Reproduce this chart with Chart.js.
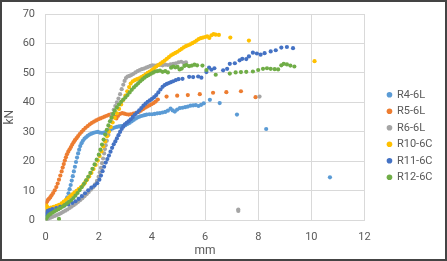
<!DOCTYPE html>
<html>
<head>
<meta charset="UTF-8">
<title>kN - mm</title>
<script src="https://cdn.jsdelivr.net/npm/chart.js@4.4.1/dist/chart.umd.min.js"></script>
<style>
  html, body { margin: 0; padding: 0; background: #fff; }
  .frame {
    width: 447px; height: 261px; box-sizing: border-box;
    border: 2px solid #444; background: #fff; position: relative;
  }
</style>
</head>
<body>
<div class="frame">
  <canvas id="grafico"></canvas>
</div>
<script>
// Serie names
const nomes = ['R4-6L', 'R5-6L', 'R6-6L', 'R10-6C', 'R11-6C', 'R12-6C'];
const cores = ['#5B9BD5', '#ED7D31', '#A5A5A5', '#FFC000', '#4472C4', '#70AD47'];

// Axis ticks
const ticksX = [0, 2, 4, 6, 8, 10, 12];
const ticksY = [0, 10, 20, 30, 40, 50, 60, 70];

// R4-6L
const r4x = [0,0.04,0.08,0.15,0.22,0.3,0.38,0.46,0.54,0.62,0.7,0.76,0.81,0.86,0.9,0.94,0.98,1.02,1.06,1.1,1.14,1.18,1.22,1.26,1.3,1.35,1.4,1.46,1.52,1.58,1.65,1.72,1.8,1.88,1.96,2.04,2.12,2.2,2.28,2.36,2.44,2.52,2.6,2.68,2.76,2.84,2.92,3.0,3.08,3.16,3.24,3.32,3.4,3.48,3.56,3.64,3.72,3.8,3.9,4.0,4.1,4.2,4.3,4.4,4.5,4.6,4.7,4.78,4.86,4.95,5.05,5.15,5.25,5.35,5.45,5.55,5.65,5.75,5.85,5.95,6.18,6.55,7.2,8.3,10.7];
const r4y = [1.2,1.6,2,2.4,2.9,3.3,3.7,4.1,4.5,5,5.6,6.5,7.8,9.2,10.6,12,13.5,15,16.6,18.2,19.8,21.3,22.7,24,25.2,26.2,27,27.7,28.2,28.7,29.1,29.4,29.7,29.9,30,29.8,29.7,29.8,30.1,30.4,30.8,31.2,31.5,31.7,31.9,32,32.1,32.3,32.7,33.1,33.6,34.1,34.6,35,35.3,35.5,35.7,35.9,36,36,36.1,36.3,36.4,36.6,36.8,37.2,37.9,37.3,36.9,37.6,38.1,38.2,38.4,38.6,38.9,39,39.1,38.8,39.2,39.7,40.9,39.8,35.9,31,14.6];

// R5-6L
const r5x = [0,0.02,0.05,0.08,0.12,0.17,0.22,0.28,0.34,0.4,0.45,0.5,0.55,0.6,0.64,0.68,0.72,0.76,0.8,0.85,0.9,0.95,1.0,1.05,1.1,1.16,1.22,1.28,1.35,1.42,1.5,1.58,1.66,1.74,1.82,1.9,1.98,2.06,2.14,2.22,2.3,2.38,2.46,2.54,2.6,2.66,2.72,2.8,2.88,2.96,3.04,3.12,3.2,3.3,3.4,3.5,3.58,3.66,3.74,3.82,3.9,3.98,4.06,4.14,4.22,4.55,4.95,5.35,5.8,6.3,6.8,7.35,7.9];
const r5y = [5.5,6,6.4,6.9,7.3,7.8,8.5,9.3,10.2,11.3,12.5,13.8,15.2,16.6,17.9,19.1,20.3,21.4,22.4,23.3,24.1,24.9,25.7,26.5,27.2,27.9,28.6,29.3,30,30.7,31.4,32,32.6,33.1,33.5,33.9,34.3,34.6,34.9,35.2,35.5,35.8,36,35.7,35.1,34.6,35.4,36.1,36.4,36.2,36,35.9,36,36.2,36.5,36.8,37.2,37.7,38.2,38.6,39,39.4,39.8,40.3,41,42,42.3,42.5,42.8,43.3,43.5,43.8,41.8];

// R6-6L
const r6x = [0,0.05,0.1,0.18,0.26,0.34,0.42,0.5,0.58,0.66,0.74,0.82,0.9,0.98,1.06,1.14,1.22,1.3,1.38,1.46,1.54,1.62,1.7,1.78,1.86,1.93,1.99,2.04,2.08,2.12,2.16,2.2,2.23,2.26,2.3,2.36,2.42,2.46,2.5,2.56,2.62,2.68,2.74,2.8,2.86,2.92,2.97,3.02,3.08,3.15,3.22,3.3,3.38,3.46,3.54,3.62,3.7,3.78,3.86,3.94,4.02,4.1,4.2,4.3,4.4,4.5,4.6,4.7,4.8,4.9,5.0,5.1,5.2,5.28,7.25,7.25,8.05];
const r6y = [0,0.3,0.6,0.9,1.2,1.5,1.8,2.1,2.5,2.9,3.3,3.7,4.2,4.7,5.2,5.7,6.3,6.9,7.5,8.2,8.9,9.6,10.4,11.2,12.2,13.4,14.8,16.3,17.8,19.4,21,22.7,24.2,25.5,27,29,31.5,34,36,37.5,38.8,40,41.3,42.8,44.5,46,47.3,48.3,48.8,49,49.3,49.7,50.2,50.6,51,51.3,51.5,51.8,52.1,52.4,52.6,52.5,52.6,52.7,52.6,52.8,52.7,52.9,53.1,53.3,53.6,53.8,53.4,53.6,3.2,3.7,42];

// R10-6C
const r10x = [0,0.01,0.03,0.05,0.08,0.12,0.2,0.3,0.4,0.5,0.6,0.68,0.76,0.84,0.92,1.0,1.08,1.16,1.24,1.32,1.4,1.48,1.56,1.64,1.72,1.8,1.88,1.96,2.03,2.1,2.17,2.24,2.31,2.38,2.45,2.52,2.6,2.68,2.76,2.84,2.92,3.0,3.07,3.14,3.2,3.28,3.36,3.44,3.52,3.6,3.68,3.76,3.84,3.92,4.0,4.08,4.16,4.24,4.32,4.4,4.48,4.56,4.64,4.72,4.8,4.88,4.96,5.04,5.12,5.2,5.28,5.36,5.44,5.52,5.6,5.68,5.76,5.84,5.92,6.0,6.08,6.16,6.24,6.32,6.4,6.52,6.95,7.65,10.12];
const r10y = [3.6,4.3,5,4.6,3.9,4.1,4.3,4.6,4.9,5.3,5.8,6.4,7,7.6,8.2,8.8,9.4,10,10.6,11.2,11.9,12.8,13.8,14.9,16.1,17.4,18.8,20.3,21.8,23.4,25.1,26.8,28.5,30.1,31.7,33.2,34.8,36.3,37.8,39.3,40.8,42.3,43.8,45.2,46.4,47.2,47.6,47.9,48.2,48.6,49,49.5,50,50.5,51,51.6,52.2,52.7,53.2,53.7,54.2,54.8,55.4,56,56.4,56.8,57.2,57.7,58.2,58.7,59.1,59.4,59.7,60.1,60.5,61,61.5,61.8,62,62.2,62.4,61.9,62.8,63.2,63,62.9,62,61,54];

// R11-6C
const r11x = [0,0.03,0.08,0.15,0.25,0.4,0.55,0.7,0.85,1.0,1.12,1.24,1.36,1.48,1.6,1.72,1.84,1.94,2.02,2.08,2.14,2.2,2.26,2.32,2.38,2.44,2.5,2.56,2.62,2.68,2.74,2.8,2.86,2.92,2.98,3.05,3.12,3.2,3.28,3.36,3.44,3.52,3.6,3.68,3.76,3.84,3.92,4.0,4.08,4.16,4.24,4.32,4.4,4.48,4.56,4.64,4.72,4.8,4.9,5.0,5.15,5.4,5.55,5.74,5.86,6.05,6.15,6.24,6.35,6.68,6.83,6.93,7.12,7.3,7.4,7.55,7.65,7.8,7.95,8.09,8.24,8.47,8.66,8.87,9.08,9.31];
const r11y = [2.2,2.8,3.2,3.5,3.8,4.2,4.6,5,5.4,5.9,6.5,7.3,8.2,9.2,10.2,11.1,11.8,12.6,13.8,15.2,16.7,18.2,19.6,20.8,22,23.3,24.6,25.8,26.8,27.8,28.9,30,31,31.8,32.6,33.1,33.6,34.3,35.1,35.9,36.6,37.3,38.1,38.9,39.6,40.2,40.7,41.2,41.8,42.5,43.4,44.4,45.3,45.9,46.3,46.6,46.9,47.2,47.6,47.9,48,48.7,48.6,48.8,48.4,50.3,51.8,51.1,51.6,50.9,51.4,53.1,53.3,54.3,54.8,54.7,55.6,56.9,56.6,56.2,56.7,57.3,57.7,58.6,58.8,58.4];

// R12-6C
const r12x = [0,0.03,0.07,0.12,0.18,0.25,0.32,0.4,0.48,0.5,0.56,0.64,0.72,0.8,0.88,0.96,1.04,1.12,1.2,1.28,1.36,1.44,1.52,1.6,1.68,1.76,1.84,1.92,2.0,2.06,2.12,2.18,2.24,2.3,2.36,2.42,2.48,2.54,2.6,2.68,2.76,2.84,2.92,3.0,3.08,3.16,3.24,3.32,3.4,3.48,3.56,3.64,3.72,3.8,3.88,3.96,4.04,4.12,4.2,4.3,4.4,4.5,4.6,4.72,4.8,4.88,4.96,5.04,5.12,5.22,5.3,5.4,5.5,5.6,5.7,5.9,6.05,6.4,6.93,7.15,7.35,7.55,7.8,8.0,8.18,8.33,8.47,8.62,8.75,8.87,8.96,9.08,9.21,9.36];
const r12y = [0.3,0.8,1.3,1.8,2.2,2.6,3,3.4,3.8,0.5,4.2,4.7,5.2,5.7,6.3,6.9,7.6,8.4,9.3,10.3,11.3,12.4,13.6,14.8,16.1,17.5,19,20.6,22.3,24,25.7,27.4,29.1,30.7,32.2,33.6,34.9,36.1,37.2,38.3,39.3,40.2,41,41.7,42.5,43.4,44.3,45.1,45.8,46.5,47.2,47.8,48.4,48.9,49.3,49.7,50.1,50.5,50.6,50.8,50.4,50.6,50.2,51.8,52.2,51.9,52.1,51.2,51.5,52.4,52.7,52.3,52.5,52.8,52.6,52.5,51,49.4,49.8,50.2,50.3,50.4,50.5,51,51.4,51.6,51.4,51.3,51.2,52.6,53.1,52.9,52.5,52.2];

const seriesX = [r4x, r5x, r6x, r10x, r11x, r12x];
const seriesY = [r4y, r5y, r6y, r10y, r11y, r12y];

const corTexto = '#595959';
const corGrade = '#d9d9d9';
const fonte = 'Roboto';

const datasets = nomes.map((nome, i) => ({
    label: nome,
    data: seriesX[i].map((x, j) => ({ x: x, y: seriesY[i][j] })),
    backgroundColor: cores[i],
    borderColor: cores[i],
    borderWidth: 0,
    pointRadius: 2.1,
    pointHoverRadius: 2.1,
    order: nomes.length - i   // later series on top, like Excel
}));

new Chart(document.getElementById('grafico'), {
    type: 'scatter',
    data: { datasets: datasets },
    options: {
        responsive: true,
        maintainAspectRatio: false,
        animation: false,
        events: [],
        layout: { padding: { left: 0.8, right: 2.5, top: 12, bottom: 1 } },
        scales: {
            x: {
                type: 'linear',
                min: 0, max: 12,
                afterBuildTicks: s => { s.ticks = ticksX.map(v => ({ value: v })); },
                afterFit: s => { s.height = 37.6; },
                grid: { color: corGrade, drawTicks: false },
                border: { color: corGrade },
                ticks: { color: corTexto, font: { family: fonte, size: 11 }, padding: 10 },
                title: { display: true, text: 'mm', color: corTexto, font: { family: fonte, size: 12 }, padding: 0 }
            },
            y: {
                type: 'linear',
                min: 0, max: 70,
                afterBuildTicks: s => { s.ticks = ticksY.map(v => ({ value: v })); },
                afterFit: s => { s.width = 42.9; s.paddingTop = 0; s.paddingBottom = 0; },
                grid: { color: corGrade, drawTicks: false },
                border: { color: corGrade },
                ticks: { color: corTexto, font: { family: fonte, size: 11 }, padding: 10.7 },
                title: { display: true, text: 'kN', color: corTexto, font: { family: fonte, size: 12 }, padding: { top: 0, bottom: 5.4 } }
            },
            // empty axis, only keeps the gap between plot and legend
            espaco: {
                type: 'linear',
                position: 'right',
                display: true,
                grid: { display: false },
                border: { display: false },
                ticks: { display: false },
                afterFit: s => { s.width = 17.5; }
            }
        },
        plugins: {
            tooltip: { enabled: false },
            legend: {
                position: 'right',
                align: 'center',
                labels: {
                    usePointStyle: true,
                    pointStyle: 'circle',
                    boxWidth: 4,
                    boxHeight: 4,
                    padding: 5.5,
                    color: corTexto,
                    font: { family: fonte, size: 11 },
                    sort: (a, b) => a.datasetIndex - b.datasetIndex
                }
            }
        }
    }
});
</script>
</body>
</html>
